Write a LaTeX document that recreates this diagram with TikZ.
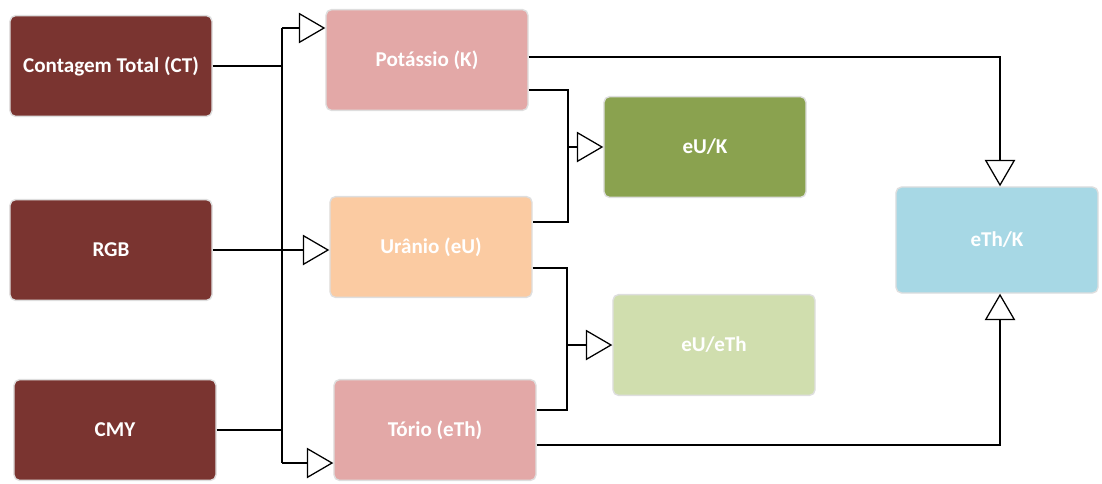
\documentclass[tikz,border=0pt]{standalone}
\usepackage{fontspec}
\setmainfont{Carlito}
\usetikzlibrary{arrows.meta,calc}
\usepackage{xcolor}
\definecolor{tijolo}{HTML}{7A3430}
\definecolor{rosa}{HTML}{E3A8A7}
\definecolor{pessego}{HTML}{FBCBA2}
\definecolor{oliva}{HTML}{8AA24F}
\definecolor{verdeclaro}{HTML}{D0DEAE}
\definecolor{celeste}{HTML}{A7D8E5}

\begin{document}
\begin{tikzpicture}[x=0.025cm, y=-0.025cm,
  caixa/.style={rounded corners=4pt, draw=black!13, line width=1pt, text=white,
    minimum width=5.05cm, minimum height=2.52cm, font=\fontsize{15}{17}\selectfont\bfseries},
  fio/.style={line width=0.9pt},
  seta/.style={fio, -{Triangle[open, length=0.66cm, width=0.76cm, line width=0.9pt]}}]
\useasboundingbox (0,0) rectangle (1102,483);
% entradas
\node [caixa, fill=tijolo] (ct) at (111,66) {Contagem Total (CT)};
\node [caixa, fill=tijolo] (rgb) at (111,250) {RGB};
\node [caixa, fill=tijolo] (cmy) at (115,430) {CMY};
% canais
\node [caixa, fill=rosa] (pot) at (427,60) {Potássio (K)};
\node [caixa, fill=pessego] (ura) at (431,247) {Urânio (eU)};
\node [caixa, fill=rosa] (tor) at (435,430) {Tório (eTh)};
% razoes
\node [caixa, fill=oliva] (euk) at (705,147) {eU/K};
\node [caixa, fill=verdeclaro] (euth) at (714,345) {eU/eTh};
\node [caixa, fill=celeste, minimum height=2.65cm] (ethk) at (997,240) {eTh/K};
% ligacoes
\coordinate (b1) at (282,28);
\coordinate (b2) at (282,463);
\draw [fio] (ct.east) -- (ct.east -| b1);
\draw [fio] (cmy.east) -- (cmy.east -| b1);
\draw [fio] (b1) -- (b2);
\draw [seta] (b1) -- (b1 -| pot.west);
\draw [seta] (b2) -- (b2 -| tor.west);
\draw [seta] (rgb.east) -- (rgb.east -| ura.west);
\coordinate (c1) at (568,90);
\coordinate (c2) at (568,222);
\draw [fio] (c1 -| pot.east) -- (c1) -- (c2) -- (c2 -| ura.east);
\draw [seta] (c1 |- euk.west) -- (euk.west);
\coordinate (c3) at (567,268);
\coordinate (c4) at (567,410);
\draw [fio] (c3 -| ura.east) -- (c3) -- (c4) -- (c4 -| tor.east);
\draw [seta] (c3 |- euth.west) -- (euth.west);
\coordinate (c5) at (1000,57);
\coordinate (c6) at (1000,445);
\draw [seta] (c5 -| pot.east) -- (c5) -- (c5 |- ethk.north);
\draw [seta] (c6 -| tor.east) -- (c6) -- (c6 |- ethk.south);
\end{tikzpicture}
\end{document}
